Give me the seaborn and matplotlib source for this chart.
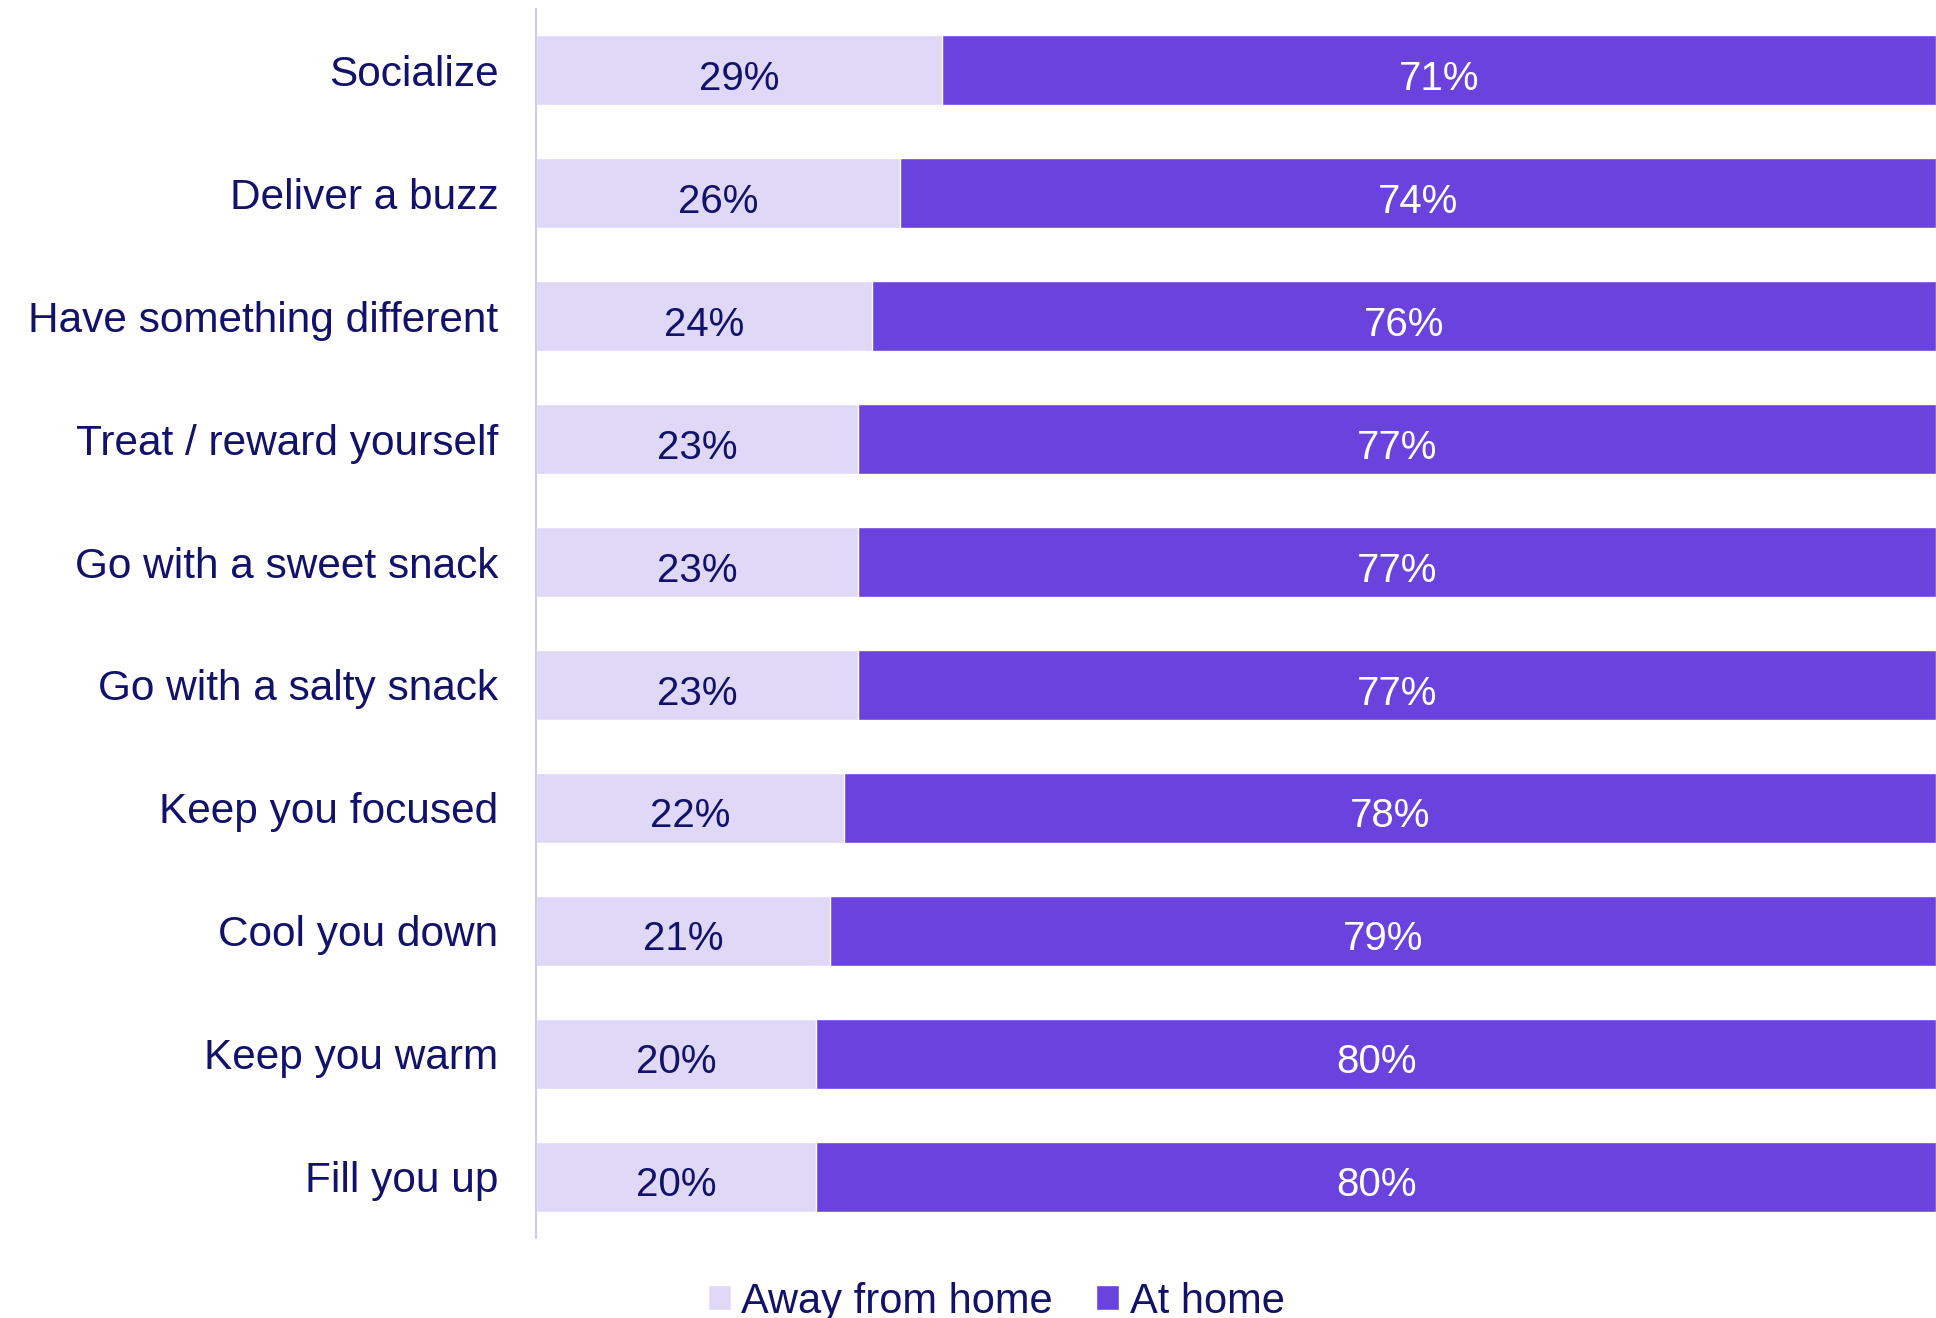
import matplotlib
matplotlib.use("Agg")
import matplotlib.pyplot as plt
import seaborn as sns
import pandas as pd

categories = [
    "Socialize",
    "Deliver a buzz",
    "Have something different",
    "Treat / reward yourself",
    "Go with a sweet snack",
    "Go with a salty snack",
    "Keep you focused",
    "Cool you down",
    "Keep you warm",
    "Fill you up",
]
away_from_home = [29, 26, 24, 23, 23, 23, 22, 21, 20, 20]
at_home = [71, 74, 76, 77, 77, 77, 78, 79, 80, 80]
series_names = ["Away from home", "At home"]

LIGHT = "#dfd8f7"
DARK = "#6a42de"
NAVY = "#12126b"
AXIS = "#cfcaf3"

sns.set_theme(style="white")
plt.rcParams["font.family"] = ["Liberation Sans", "DejaVu Sans"]

df = pd.DataFrame({
    "category": categories,
    "away": away_from_home,
    "home": at_home,
})
df["total"] = df["away"] + df["home"]

fig = plt.figure(figsize=(19.36, 13.18), dpi=100)
ax = fig.add_axes([0.2769, 0.0607, 0.7231, 0.9325])

# stacked bars: full-length "at home" bar underneath, "away" segment on top
sns.barplot(data=df, y="category", x="total", orient="h", color=DARK,
            width=0.57, ax=ax, label=series_names[1], saturation=1)
sns.barplot(data=df, y="category", x="away", orient="h", color=LIGHT,
            width=0.57, ax=ax, label=series_names[0], saturation=1)

for i, (a, h) in enumerate(zip(away_from_home, at_home)):
    ax.text(a / 2, i + 0.07, f"{a}%", ha="center", va="center",
            fontsize=29, color=NAVY)
    ax.text(a + h / 2, i + 0.07, f"{h}%", ha="center", va="center",
            fontsize=29, color="white")

ax.set_xlim(0, 100)
ax.set_ylim(len(categories) - 0.5, -0.5)
ax.set_xlabel("")
ax.set_ylabel("")
ax.set_xticks([])
ax.tick_params(axis="y", length=0, pad=27, labelsize=30.5, labelcolor=NAVY)
for side in ["top", "right", "bottom"]:
    ax.spines[side].set_visible(False)
ax.spines["left"].set_color(AXIS)
ax.spines["left"].set_linewidth(1.5)

handles, labels = ax.get_legend_handles_labels()
if ax.get_legend() is not None:
    ax.get_legend().remove()
order = [labels.index(n) for n in series_names]
leg = fig.legend([handles[k] for k in order], [labels[k] for k in order],
                 loc="center", bbox_to_anchor=(0.5145, 0.0125), ncol=2,
                 frameon=False, handlelength=0.55, handleheight=0.55,
                 handletextpad=0.25, columnspacing=1.05,
                 prop={"size": 30})
for t in leg.get_texts():
    t.set_color(NAVY)

fig.savefig("out.png", dpi=100)
